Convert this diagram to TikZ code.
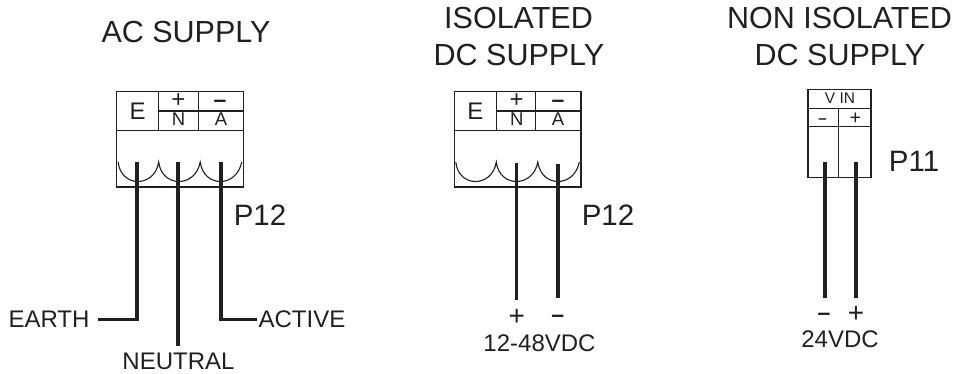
\documentclass[tikz,border=0pt]{standalone}
\usepackage{fontspec}
\setmainfont{Liberation Sans}
\definecolor{ink}{HTML}{231F20}
\tikzset{
 px/.style={x=1pt,y=-1pt},
 thin box/.style={draw=ink,line width=1.1pt},
 wire/.style={draw=ink,line width=3.2pt},
 cell/.style={inner sep=0pt,text=ink,anchor=base},
 title/.style={cell,font=\fontsize{30.5}{30.5}\selectfont},
 big/.style={cell,font=\fontsize{29.5}{29.5}\selectfont},
 lab/.style={cell,font=\fontsize{24}{24}\selectfont},
 letter/.style={cell,font=\fontsize{18.5}{18.5}\selectfont},
 small/.style={cell,font=\fontsize{15.5}{15.5}\selectfont},
 sign/.style={cell,font=\fontsize{24}{24}\selectfont},
 minus/.style={cell,font=\fontsize{23}{23}\selectfont\bfseries},
 tiny sign/.style={cell,font=\fontsize{20}{20}\selectfont},
 tiny minus/.style={cell,font=\fontsize{15}{15}\selectfont\bfseries},
}
\newcommand{\block}[1]{%
 \begin{scope}[shift={(#1,0)}]
  \draw[thin box] (0,91.7) rectangle (126.7,187);
  \draw[thin box] (0,130.7) -- (126.7,130.7);
  \draw[thin box] (42,91.7) -- (42,130.7) (81.5,91.7) -- (81.5,130.7) (42,111) -- (126.7,111);
  \draw[thin box] (1.5,162) .. controls (4,188) and (38,188) .. (42,162)
     .. controls (45,188) and (79,188) .. (83.5,162)
     .. controls (87,188) and (120,188) .. (125,162);
  \node[lab] at (21,119.3) {E};
 \end{scope}}
\begin{document}
\begin{tikzpicture}[px]
\path[use as bounding box] (0,0) rectangle (959,374);
% block 1
\block{116.7}
\node[title] (t1) at (186,42.7) {AC SUPPLY};
\node[sign] (s1) at (178.5,107.5) {+};
\node[letter] (n1) at (178.5,126) {N};
\node[minus] (m1) at (220,107.5) {–};
\node[letter] (a1) at (221,126) {A};
\coordinate (e1t) at (137,162);
\coordinate (e1b) at (137,319.5);
\coordinate (e1e) at (98,319.5);
\coordinate (n1t) at (178,162);
\coordinate (n1b) at (178,346);
\coordinate (a1t) at (221,162);
\coordinate (a1b) at (221,319.5);
\coordinate (a1e) at (257,319.5);
\draw[wire] (e1t) -- (e1b) -- (e1e);
\draw[wire] (n1t) -- (n1b);
\draw[wire] (a1t) -- (a1b) -- (a1e);
\node[big] (p1) at (260,226) {P12};
\node[lab] (earth) at (49,327.7) {EARTH};
\node[lab] (active) at (302,327.7) {ACTIVE};
\node[lab] (neutral) at (178.5,369) {NEUTRAL};
% block 2
\block{454.3}
\node[title] (t2a) at (518.5,28.5) {ISOLATED};
\node[title] (t2b) at (519,65.5) {DC SUPPLY};
\node[sign] (s2) at (516.7,107.5) {+};
\node[letter] (n2) at (516.7,126) {N};
\node[minus] (m2) at (558,107.5) {–};
\node[letter] (a2) at (558,126) {A};
\coordinate (w2at) at (516.7,163);
\coordinate (w2ab) at (516.7,300);
\coordinate (w2bt) at (558,164);
\coordinate (w2bb) at (558,298);
\draw[wire] (w2at) -- (w2ab);
\draw[wire] (w2bt) -- (w2bb);
\node[big] (p2) at (608,226) {P12};
\node[sign,font=\fontsize{28}{28}\selectfont] (ps2) at (516.7,325.5) {+};
\node[minus] (mn2) at (557.7,323) {–};
\node[lab] (v2) at (539.5,351.7) {12-48VDC};
% block 3
\draw[thin box] (808,89.3) rectangle (871,177.3);
\draw[thin box] (808,108.7) -- (871,108.7) (808,126.7) -- (871,126.7);
\draw[thin box] (838.7,108.7) -- (838.7,177.3);
\node[title] (t3a) at (839.5,29) {NON ISOLATED};
\node[title] (t3b) at (840,65.7) {DC SUPPLY};
\node[small] (vin) at (840,104) {V IN};
\node[tiny minus] (m3) at (822.5,124) {–};
\node[tiny sign] (s3) at (855.5,125) {+};
\coordinate (w3at) at (825,162);
\coordinate (w3ab) at (825,298);
\coordinate (w3bt) at (856,162);
\coordinate (w3bb) at (856,298);
\draw[wire] (w3at) -- (w3ab);
\draw[wire] (w3bt) -- (w3bb);
\node[big] (p3) at (914,171.7) {P11};
\node[minus] (mn3) at (824,320) {–};
\node[sign,font=\fontsize{28}{28}\selectfont] (ps3) at (856,322.5) {+};
\node[lab] (v3) at (840,347) {24VDC};
\end{tikzpicture}
\end{document}
